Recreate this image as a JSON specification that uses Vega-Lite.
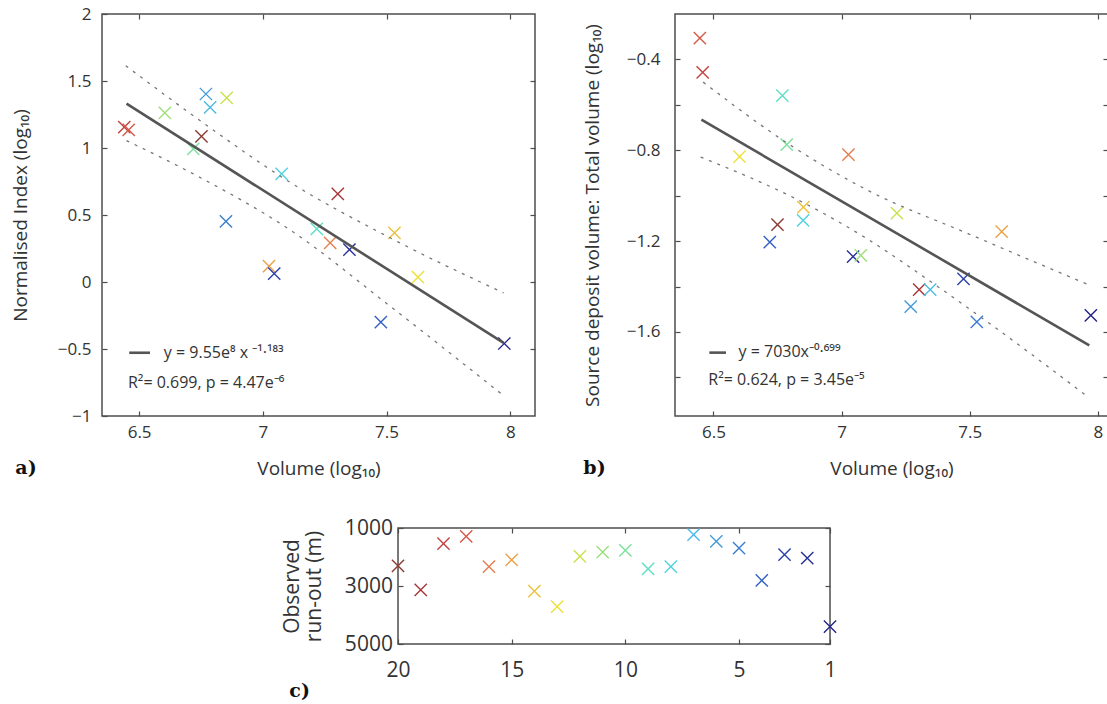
{
  "$schema": "https://vega.github.io/schema/vega-lite/v6.json",
  "background": "white",
  "padding": {"left": 10, "top": 4, "right": 0, "bottom": 0},
  "config": {
    "font": "Open Sans",
    "view": {"stroke": "#4d4d4d", "strokeWidth": 1.5},
    "axis": {
      "domain": false, "grid": false, "ticks": true, "tickSize": -5, "tickColor": "#4d4d4d", "tickWidth": 1.2,
      "labelFont": "Open Sans", "labelFontSize": 17, "labelColor": "#333333", "labelPadding": 16,
      "labelFlush": false, "labelOverlap": false,
      "titleFont": "Open Sans", "titleFontSize": 19, "titleFontWeight": "normal", "titleColor": "#333333"
    },
    "axisX": {"labelPadding": 13, "titlePadding": 19}
  },
  "spacing": 37,
  "vconcat": [
    {
      "spacing": 45,
      "hconcat": [
        {
          "width": 433, "height": 402,
          "title": {"text": "a)", "orient": "bottom", "anchor": "start", "frame": "bounds", "font": "DejaVu Serif", "fontSize": 19, "fontWeight": "bold", "color": "#111111", "offset": -19, "dx": 4},
          "resolve": {"axis": {"x": "independent", "y": "independent"}},
          "layer": [
            {
              "data": {"values": [
                {"volume": 6.440, "norm_index": 1.155, "rank": 18},
                {"volume": 6.458, "norm_index": 1.135, "rank": 17},
                {"volume": 6.604, "norm_index": 1.262, "rank": 11},
                {"volume": 6.770, "norm_index": 1.403, "rank": 6},
                {"volume": 6.787, "norm_index": 1.304, "rank": 7},
                {"volume": 6.854, "norm_index": 1.374, "rank": 12},
                {"volume": 6.752, "norm_index": 1.087, "rank": 20},
                {"volume": 6.719, "norm_index": 0.993, "rank": 10},
                {"volume": 7.076, "norm_index": 0.807, "rank": 8},
                {"volume": 7.303, "norm_index": 0.658, "rank": 19},
                {"volume": 6.851, "norm_index": 0.453, "rank": 5},
                {"volume": 7.218, "norm_index": 0.397, "rank": 9},
                {"volume": 7.272, "norm_index": 0.292, "rank": 16},
                {"volume": 7.350, "norm_index": 0.242, "rank": 2},
                {"volume": 7.532, "norm_index": 0.367, "rank": 14},
                {"volume": 7.025, "norm_index": 0.118, "rank": 15},
                {"volume": 7.046, "norm_index": 0.063, "rank": 3},
                {"volume": 7.627, "norm_index": 0.036, "rank": 13},
                {"volume": 7.477, "norm_index": -0.300, "rank": 4},
                {"volume": 7.976, "norm_index": -0.459, "rank": 1}
              ]},
              "mark": {"type": "point", "shape": "M-1,-1L1,1M-1,1L1,-1", "filled": false, "size": 150, "strokeWidth": 1.4, "opacity": 1},
              "encoding": {
                "x": {"field": "volume", "type": "quantitative", "scale": {"domain": [6.35, 8.1], "nice": false, "zero": false},
                      "axis": {"orient": "bottom", "values": [6.5, 7, 7.5, 8], "format": "~g", "title": "Volume (log₁₀)"}},
                "y": {"field": "norm_index", "type": "quantitative", "scale": {"domain": [-1, 2], "nice": false, "zero": false},
                      "axis": {"orient": "left", "values": [-1, -0.5, 0, 0.5, 1, 1.5, 2], "format": "~g", "title": "Normalised Index (log₁₀)", "titlePadding": 27}},
                "color": {"field": "rank", "type": "ordinal",
                          "scale": {"domain": [1,2,3,4,5,6,7,8,9,10,11,12,13,14,15,16,17,18,19,20],
                                    "range": ["#22238a","#282f98","#2c42ad","#3260c2","#3a7ecf","#429bd9","#4bbae2","#51d2df","#5ddfc6","#7de09c","#9de079","#c8e24f","#ece13a","#ecc23d","#eba147","#e37f4b","#d55a48","#c4423f","#a63737","#8c3a32"]},
                          "legend": null}
              }
            },
            {
              "data": {"values": [
                {"volume": 6.449, "fit": 1.331},
                {"volume": 7.973, "fit": -0.455}
              ]},
              "mark": {"type": "line", "color": "#555555", "strokeWidth": 2.6},
              "encoding": {
                "x": {"field": "volume", "type": "quantitative", "axis": {"orient": "top", "labels": false, "title": null, "values": [6.5, 7, 7.5, 8]}},
                "y": {"field": "fit", "type": "quantitative", "axis": {"orient": "right", "labels": false, "title": null, "values": [-0.5, 0, 0.5, 1, 1.5]}}
              }
            },
            {
              "data": {"values": [
                {"volume": 6.446, "bound": 1.614, "side": "upper"},
                {"volume": 6.750, "bound": 1.200, "side": "upper"},
                {"volume": 7.109, "bound": 0.745, "side": "upper"},
                {"volume": 7.514, "bound": 0.330, "side": "upper"},
                {"volume": 7.973, "bound": -0.081, "side": "upper"},
                {"volume": 6.449, "bound": 1.055, "side": "lower"},
                {"volume": 6.726, "bound": 0.800, "side": "lower"},
                {"volume": 7.109, "bound": 0.390, "side": "lower"},
                {"volume": 7.514, "bound": -0.180, "side": "lower"},
                {"volume": 7.967, "bound": -0.839, "side": "lower"}
              ]},
              "mark": {"type": "line", "color": "#777777", "strokeWidth": 1.3, "strokeDash": [3, 6], "interpolate": "monotone"},
              "encoding": {
                "x": {"field": "volume", "type": "quantitative", "axis": null},
                "y": {"field": "bound", "type": "quantitative", "axis": null},
                "detail": {"field": "side"}
              }
            },
            {
              "data": {"values": [{}]},
              "mark": {"type": "rule", "color": "#555555", "strokeWidth": 2.6},
              "encoding": {
                "x": {"datum": 6.46, "type": "quantitative", "axis": null},
                "x2": {"datum": 6.544},
                "y": {"datum": -0.528, "type": "quantitative", "axis": null}
              }
            },
            {
              "data": {"values": [{}]},
              "mark": {"type": "text", "align": "left", "baseline": "middle", "fontSize": 16, "color": "#333333"},
              "encoding": {
                "x": {"datum": 6.6, "type": "quantitative", "axis": null},
                "y": {"datum": -0.533, "type": "quantitative", "axis": null},
                "text": {"value": "y = 9.55e⁸ x ⁻¹·¹⁸³"}
              }
            },
            {
              "data": {"values": [{}]},
              "mark": {"type": "text", "align": "left", "baseline": "middle", "fontSize": 16, "color": "#333333"},
              "encoding": {
                "x": {"datum": 6.455, "type": "quantitative", "axis": null},
                "y": {"datum": -0.755, "type": "quantitative", "axis": null},
                "text": {"value": "R²= 0.699, p = 4.47e⁻⁶"}
              }
            }
          ]
        },
        {
          "width": 433, "height": 402,
          "title": {"text": "b)", "orient": "bottom", "anchor": "start", "frame": "bounds", "font": "DejaVu Serif", "fontSize": 19, "fontWeight": "bold", "color": "#111111", "offset": -19, "dx": 0},
          "resolve": {"axis": {"x": "independent", "y": "independent"}},
          "layer": [
            {
              "data": {"values": [
                {"volume": 6.447, "ratio": -0.306, "rank": 17},
                {"volume": 6.458, "ratio": -0.457, "rank": 18},
                {"volume": 6.769, "ratio": -0.559, "rank": 9},
                {"volume": 6.786, "ratio": -0.775, "rank": 10},
                {"volume": 6.602, "ratio": -0.828, "rank": 13},
                {"volume": 7.027, "ratio": -0.819, "rank": 16},
                {"volume": 6.851, "ratio": -1.050, "rank": 14},
                {"volume": 6.850, "ratio": -1.109, "rank": 8},
                {"volume": 6.750, "ratio": -1.127, "rank": 20},
                {"volume": 6.720, "ratio": -1.204, "rank": 4},
                {"volume": 7.045, "ratio": -1.268, "rank": 2},
                {"volume": 7.075, "ratio": -1.263, "rank": 11},
                {"volume": 7.216, "ratio": -1.077, "rank": 12},
                {"volume": 7.625, "ratio": -1.158, "rank": 15},
                {"volume": 7.303, "ratio": -1.414, "rank": 19},
                {"volume": 7.346, "ratio": -1.414, "rank": 7},
                {"volume": 7.270, "ratio": -1.488, "rank": 6},
                {"volume": 7.476, "ratio": -1.366, "rank": 3},
                {"volume": 7.528, "ratio": -1.556, "rank": 5},
                {"volume": 7.973, "ratio": -1.527, "rank": 1}
              ]},
              "mark": {"type": "point", "shape": "M-1,-1L1,1M-1,1L1,-1", "filled": false, "size": 150, "strokeWidth": 1.4, "opacity": 1},
              "encoding": {
                "x": {"field": "volume", "type": "quantitative", "scale": {"domain": [6.35, 8.04], "nice": false, "zero": false},
                      "axis": {"orient": "bottom", "values": [6.5, 7, 7.5, 8], "format": "~g", "title": "Volume (log₁₀)"}},
                "y": {"field": "ratio", "type": "quantitative", "scale": {"domain": [-1.97, -0.2], "nice": false, "zero": false},
                      "axis": {"orient": "left", "values": [-1.8, -1.6, -1.4, -1.2, -1.0, -0.8, -0.6, -0.4],
                               "labelExpr": "abs(round(datum.value * 10)) % 4 == 0 ? format(datum.value, '.1f') : ''",
                               "labelPadding": 20,
                               "title": "Source deposit volume: Total volume (log₁₀)", "titlePadding": 24}},
                "color": {"field": "rank", "type": "ordinal",
                          "scale": {"domain": [1,2,3,4,5,6,7,8,9,10,11,12,13,14,15,16,17,18,19,20],
                                    "range": ["#22238a","#282f98","#2c42ad","#3260c2","#3a7ecf","#429bd9","#4bbae2","#51d2df","#5ddfc6","#7de09c","#9de079","#c8e24f","#ece13a","#ecc23d","#eba147","#e37f4b","#d55a48","#c4423f","#a63737","#8c3a32"]},
                          "legend": null}
              }
            },
            {
              "data": {"values": [
                {"volume": 6.453, "fit": -0.665},
                {"volume": 7.967, "fit": -1.659}
              ]},
              "mark": {"type": "line", "color": "#555555", "strokeWidth": 2.6},
              "encoding": {
                "x": {"field": "volume", "type": "quantitative", "axis": {"orient": "top", "labels": false, "title": null, "values": [6.5, 7, 7.5, 8]}},
                "y": {"field": "fit", "type": "quantitative", "axis": {"orient": "right", "labels": false, "title": null, "values": [-1.8, -1.6, -1.4, -1.2, -1.0, -0.8, -0.6, -0.4]}}
              }
            },
            {
              "data": {"values": [
                {"volume": 6.46, "bound": -0.50, "side": "upper"},
                {"volume": 6.79, "bound": -0.77, "side": "upper"},
                {"volume": 7.10, "bound": -0.975, "side": "upper"},
                {"volume": 7.50, "bound": -1.17, "side": "upper"},
                {"volume": 7.96, "bound": -1.39, "side": "upper"},
                {"volume": 6.45, "bound": -0.83, "side": "lower"},
                {"volume": 6.85, "bound": -1.03, "side": "lower"},
                {"volume": 7.10, "bound": -1.19, "side": "lower"},
                {"volume": 7.35, "bound": -1.38, "side": "lower"},
                {"volume": 7.55, "bound": -1.54, "side": "lower"},
                {"volume": 7.955, "bound": -1.88, "side": "lower"}
              ]},
              "mark": {"type": "line", "color": "#777777", "strokeWidth": 1.3, "strokeDash": [3, 6], "interpolate": "monotone"},
              "encoding": {
                "x": {"field": "volume", "type": "quantitative", "axis": null},
                "y": {"field": "bound", "type": "quantitative", "axis": null},
                "detail": {"field": "side"}
              }
            },
            {
              "data": {"values": [{}]},
              "mark": {"type": "rule", "color": "#555555", "strokeWidth": 2.6},
              "encoding": {
                "x": {"datum": 6.484, "type": "quantitative", "axis": null},
                "x2": {"datum": 6.549},
                "y": {"datum": -1.691, "type": "quantitative", "axis": null}
              }
            },
            {
              "data": {"values": [{}]},
              "mark": {"type": "text", "align": "left", "baseline": "middle", "fontSize": 16, "color": "#333333"},
              "encoding": {
                "x": {"datum": 6.598, "type": "quantitative", "axis": null},
                "y": {"datum": -1.689, "type": "quantitative", "axis": null},
                "text": {"value": "y = 7030x⁻⁰·⁶⁹⁹"}
              }
            },
            {
              "data": {"values": [{}]},
              "mark": {"type": "text", "align": "left", "baseline": "middle", "fontSize": 16, "color": "#333333"},
              "encoding": {
                "x": {"datum": 6.48, "type": "quantitative", "axis": null},
                "y": {"datum": -1.813, "type": "quantitative", "axis": null},
                "text": {"value": "R²= 0.624, p = 3.45e⁻⁵"}
              }
            }
          ]
        }
      ]
    },
    {
      "spacing": 0,
      "hconcat": [
        {
          "width": 178, "height": 10,
          "view": {"stroke": null},
          "data": {"values": [{}]},
          "mark": {"type": "point", "opacity": 0},
          "encoding": {}
        },
        {
          "width": 432, "height": 116,
          "title": {"text": "c)", "orient": "bottom", "anchor": "start", "frame": "bounds", "font": "DejaVu Serif", "fontSize": 19, "fontWeight": "bold", "color": "#111111", "offset": 2, "dx": 8},
          "resolve": {"axis": {"x": "independent", "y": "independent"}},
          "layer": [
            {
              "data": {"values": [
                {"event": 20, "runout": 2310},
                {"event": 19, "runout": 3130},
                {"event": 18, "runout": 1540},
                {"event": 17, "runout": 1290},
                {"event": 16, "runout": 2330},
                {"event": 15, "runout": 2100},
                {"event": 14, "runout": 3180},
                {"event": 13, "runout": 3710},
                {"event": 12, "runout": 1980},
                {"event": 11, "runout": 1830},
                {"event": 10, "runout": 1770},
                {"event": 9, "runout": 2410},
                {"event": 8, "runout": 2330},
                {"event": 7, "runout": 1230},
                {"event": 6, "runout": 1460},
                {"event": 5, "runout": 1690},
                {"event": 4, "runout": 2810},
                {"event": 3, "runout": 1920},
                {"event": 2, "runout": 2040},
                {"event": 1, "runout": 4400}
              ]},
              "mark": {"type": "point", "shape": "M-1,-1L1,1M-1,1L1,-1", "filled": false, "size": 150, "strokeWidth": 1.4, "opacity": 1},
              "encoding": {
                "x": {"field": "event", "type": "quantitative", "scale": {"domain": [1, 20], "reverse": true, "nice": false, "zero": false},
                      "axis": {"orient": "bottom", "values": [20, 15, 10, 5, 1], "format": "d", "title": null, "labelFontSize": 21, "labelPadding": 20}},
                "y": {"field": "runout", "type": "quantitative", "scale": {"domain": [1000, 5000], "reverse": true, "nice": false, "zero": false},
                      "axis": {"orient": "left", "values": [1000, 3000, 5000], "format": "d", "labelFontSize": 21, "labelPadding": 10.6,
                               "title": ["Observed", "run-out (m)"], "titleFontSize": 21, "titleLineHeight": 22, "titlePadding": 20}},
                "color": {"field": "event", "type": "ordinal",
                          "scale": {"domain": [1,2,3,4,5,6,7,8,9,10,11,12,13,14,15,16,17,18,19,20],
                                    "range": ["#22238a","#282f98","#2c42ad","#3260c2","#3a7ecf","#429bd9","#4bbae2","#51d2df","#5ddfc6","#7de09c","#9de079","#c8e24f","#ece13a","#ecc23d","#eba147","#e37f4b","#d55a48","#c4423f","#a63737","#8c3a32"]},
                          "legend": null}
              }
            },
            {
              "data": {"values": [{"event": 20, "runout": 3000}]},
              "mark": {"type": "point", "opacity": 0},
              "encoding": {
                "x": {"field": "event", "type": "quantitative", "axis": {"orient": "top", "labels": false, "title": null, "values": [20, 15, 10, 5, 1]}},
                "y": {"field": "runout", "type": "quantitative", "axis": {"orient": "right", "labels": false, "title": null, "values": [1000, 3000, 5000]}}
              }
            }
          ]
        }
      ]
    }
  ]
}
